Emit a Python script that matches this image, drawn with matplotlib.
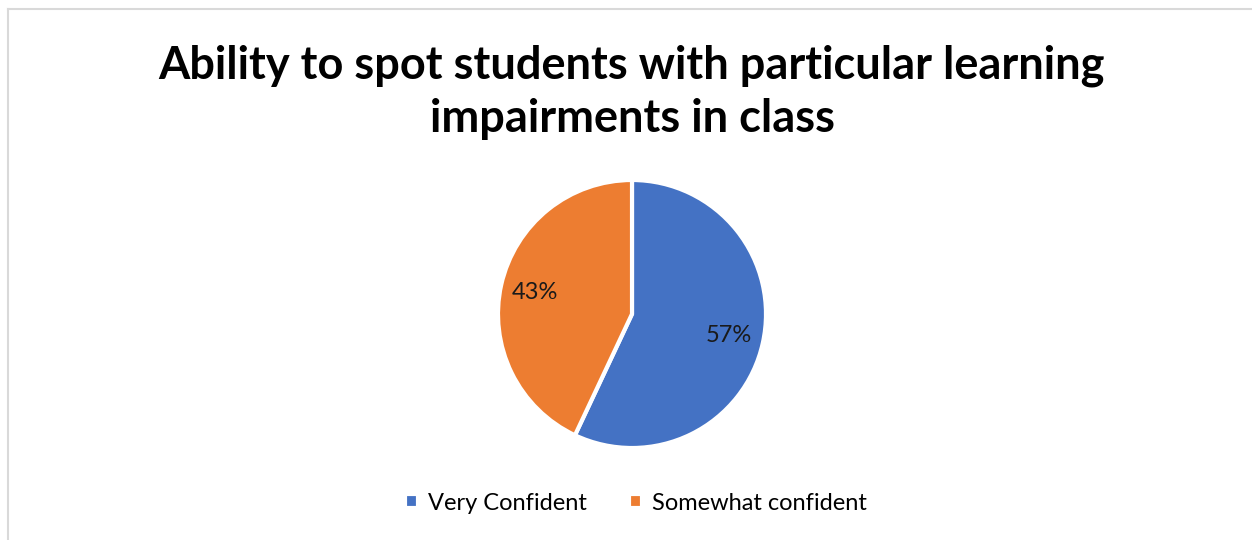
import matplotlib
matplotlib.use('Agg')
import matplotlib.pyplot as plt
from matplotlib.lines import Line2D

# Data
categories = ['Very Confident', 'Somewhat confident']
shares = [57, 43]
colors = ['#4472C4', '#ED7D31']
title = 'Ability to spot students with particular learning\nimpairments in class'

plt.rcParams['font.family'] = ['Lato', 'DejaVu Sans']

W, H = 1252, 540
fig = plt.figure(figsize=(W / 100, H / 100), dpi=100)
fig.patch.set_facecolor('white')

# chart frame (only top and left edges visible in the crop)
border = '#d9d9d9'
fig.add_artist(Line2D([8 / W, 1], [1 - 9 / H, 1 - 9 / H], color=border, lw=1.5))
fig.add_artist(Line2D([8 / W, 8 / W], [0, 1 - 9 / H], color=border, lw=1.5))

# pie axes: centre ~(632, 314) px, radius ~134 px
cx, cy, r = 632, 314, 134
ax = fig.add_axes([(cx - r) / W, (H - cy - r) / H, 2 * r / W, 2 * r / H])
wedges, texts, autotexts = ax.pie(
    shares, colors=colors, startangle=90, counterclock=False,
    autopct='%1.0f%%', pctdistance=0.74,
    wedgeprops=dict(edgecolor='white', linewidth=3),
    textprops=dict(fontsize=17, color='#1a1a1a'))
ax.set_xlim(-1, 1)
ax.set_ylim(-1, 1)

fig.text(632 / W, 1 - 92 / H, title, ha='center', va='center',
         fontsize=32.5, fontweight='bold', linespacing=1.32, color='black')

fig.legend(wedges, categories, loc='center', bbox_to_anchor=(636 / W, 1 - 503 / H),
           ncol=2, frameon=False, fontsize=17, handlelength=0.55, handleheight=0.55,
           handletextpad=0.4, columnspacing=1.8)

fig.savefig('out.png', dpi=100)
